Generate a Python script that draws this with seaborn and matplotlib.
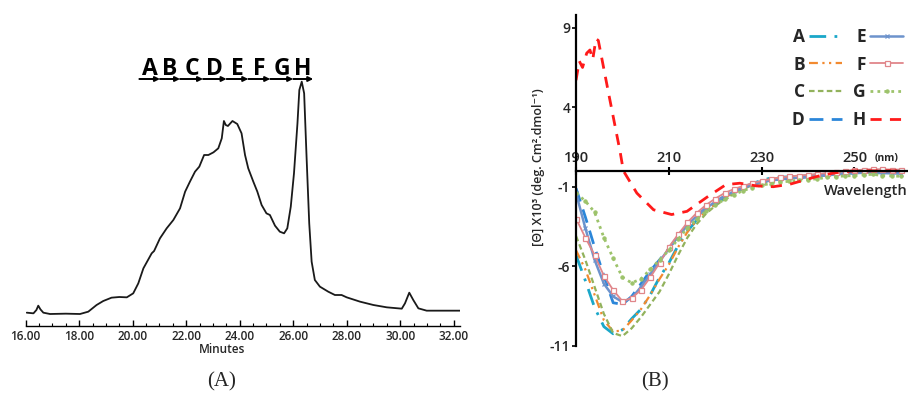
import matplotlib
matplotlib.use("Agg")
import matplotlib.pyplot as plt
import seaborn as sns

# ---- panel A: chromatogram ----
minutes = [16.04, 16.29, 16.40, 16.47, 16.55, 16.66, 16.91, 17.5, 18.03, 18.34,
           18.65, 18.9, 19.21, 19.5, 19.78, 20.02, 20.21, 20.40, 20.71, 20.80,
           21.02, 21.27, 21.52, 21.77, 21.96, 22.14, 22.33, 22.49, 22.67, 22.83,
           23.02, 23.2, 23.33, 23.41, 23.48, 23.56, 23.73, 23.91, 24.07, 24.2,
           24.32, 24.51, 24.66, 24.82, 25.0, 25.13, 25.32, 25.5, 25.66, 25.78,
           25.91, 26.03, 26.16, 26.23, 26.32, 26.41, 26.5, 26.6, 26.69, 26.81,
           27.0, 27.31, 27.56, 27.81, 28.0, 28.5, 29.0, 29.5, 30.06, 30.18,
           30.34, 30.49, 30.68, 30.99, 31.5, 32.25]
signal = [2, 0, 10, 23, 12, 2, -2, -1, -2, 5,
          25, 37, 47, 49, 48, 60, 90, 135, 180, 187,
          225, 255, 280, 315, 365, 395, 425, 440, 475, 475,
          483, 495, 525, 577, 565, 562, 577, 568, 540, 475,
          435, 395, 365, 325, 300, 295, 263, 245, 240, 255,
          320, 420, 570, 670, 695, 660, 470, 270, 155, 100,
          80, 65, 55, 55, 48, 35, 25, 18, 14, 30,
          62, 40, 15, 8, 8, 8]
fraction_labels = ["A", "B", "C", "D", "E", "F", "G", "H"]
fraction_bounds = [20.25, 21.02, 21.77, 22.63, 23.51, 24.32, 25.14, 26.0, 26.75]
minute_ticks = [16, 18, 20, 22, 24, 26, 28, 30, 32]

# ---- panel B: CD spectra ----
wavelength = [190, 192, 194, 196, 198, 200, 202, 204, 206, 208, 210, 212,
              214, 216, 218, 220, 222, 224, 226, 228, 230, 232, 234, 236,
              238, 240, 242, 244, 246, 248, 250, 252, 254, 256, 258, 260]
cd_A = [-5.3, -6.9, -8.6, -9.8, -10.25, -10.0, -9.3, -8.7, -7.8, -6.7, -5.8, -4.7,
        -3.8, -3.1, -2.55, -2.1, -1.7, -1.35, -1.05, -0.8, -0.6, -0.45, -0.4, -0.38,
        -0.35, -0.3, -0.25, -0.2, -0.15, -0.1, -0.05, 0.0, 0.0, -0.02, -0.05, -0.05]
cd_B = [-5.0, -6.2, -7.8, -9.4, -10.1, -10.05, -9.4, -8.7, -7.8, -6.8, -5.9, -4.8,
        -3.85, -3.1, -2.55, -2.1, -1.7, -1.35, -1.1, -0.85, -0.65, -0.5, -0.45, -0.4,
        -0.38, -0.33, -0.28, -0.22, -0.17, -0.12, -0.08, -0.05, -0.02, -0.05, -0.08, -0.1]
cd_C = [-4.1, -5.6, -7.3, -9.0, -10.2, -10.4, -9.9, -9.2, -8.4, -7.6, -6.5, -5.3,
        -4.2, -3.35, -2.7, -2.2, -1.8, -1.45, -1.15, -0.9, -0.72, -0.6, -0.52, -0.48,
        -0.43, -0.38, -0.33, -0.27, -0.22, -0.18, -0.15, -0.12, -0.1, -0.12, -0.15, -0.15]
cd_D = [-1.1, -2.9, -4.8, -6.6, -8.3, -8.4, -7.9, -7.1, -6.3, -5.6, -4.9, -4.1,
        -3.4, -2.85, -2.35, -1.95, -1.6, -1.3, -1.08, -0.88, -0.72, -0.6, -0.52, -0.47,
        -0.43, -0.38, -0.33, -0.27, -0.22, -0.17, -0.12, -0.08, -0.05, -0.05, -0.08, -0.1]
cd_E = [-1.4, -3.6, -5.6, -7.1, -7.9, -8.25, -8.0, -7.3, -6.5, -5.7, -4.9, -4.1,
        -3.4, -2.85, -2.35, -1.95, -1.6, -1.3, -1.08, -0.88, -0.72, -0.6, -0.52, -0.47,
        -0.43, -0.38, -0.33, -0.28, -0.22, -0.18, -0.15, -0.12, -0.12, -0.15, -0.15, -0.18]
cd_F = [-3.0, -4.2, -5.3, -6.6, -7.5, -8.2, -8.0, -7.5, -6.7, -5.8, -4.8, -4.0,
        -3.25, -2.65, -2.15, -1.75, -1.4, -1.15, -0.95, -0.78, -0.63, -0.52, -0.42, -0.35,
        -0.3, -0.25, -0.2, -0.15, -0.08, -0.02, 0.03, 0.08, 0.1, 0.1, 0.08, 0.08]
cd_G = [-1.4, -1.9, -2.6, -4.2, -5.5, -6.7, -7.05, -6.8, -6.2, -5.6, -5.0, -4.3,
        -3.6, -3.05, -2.55, -2.15, -1.8, -1.5, -1.25, -1.05, -0.9, -0.8, -0.72, -0.65,
        -0.6, -0.55, -0.5, -0.42, -0.36, -0.32, -0.3, -0.25, -0.22, -0.3, -0.32, -0.35]
wavelength_H = [190.0, 190.7, 191.4, 192.3, 193.0, 193.6, 194.3, 194.8, 195.2, 197.0,
                199.5, 200.2, 203.1, 206.7, 210.6, 213.9, 218.5, 222.3, 225.3, 228.9,
                232.5, 236.0, 239.0, 242.6, 246.0, 249.8, 255.0, 260.0]
cd_H = [5.7, 6.9, 6.5, 7.4, 7.6, 7.0, 8.3, 8.2, 7.6, 4.9,
        1.2, 0.0, -1.4, -2.45, -2.75, -2.55, -1.6, -0.87, -0.78, -0.95,
        -1.0, -0.85, -0.6, -0.3, -0.12, 0.0, 0.0, 0.0]
wl_ticks = [190, 210, 230, 250]
cd_ticks = [9, 4, -1, -6, -11]

sns.set_theme(style="white")
plt.rcParams["font.family"] = ["Open Sans", "DejaVu Sans"]

fig = plt.figure(figsize=(9.08, 3.98), dpi=100)
axA = fig.add_axes([0.0283, 0.1809, 0.4787, 0.7186])
axB = fig.add_axes([0.6344, 0.1314, 0.3654, 0.8309])

# ---------- A ----------
sns.lineplot(x=minutes, y=signal, ax=axA, color="#1a1a1a", linewidth=1.3)
axA.set_xlim(16, 32.25)
axA.set_ylim(-38, 820)
for side in ["left", "right", "top"]:
    axA.spines[side].set_visible(False)
axA.spines["bottom"].set_color("black")
axA.spines["bottom"].set_linewidth(1.0)
axA.set_yticks([])
axA.set_xticks(minute_ticks)
axA.set_xticklabels([f"{t:.2f}" for t in minute_ticks], fontsize=8.5, fontweight="semibold")
axA.set_xticks([t + 0.5 * k for t in minute_ticks[:-1] for k in (1, 2, 3)], minor=True)
axA.tick_params(axis="x", which="major", direction="in", length=4, width=1, pad=3, color="black", bottom=True)
axA.tick_params(axis="x", which="minor", direction="in", length=2.5, width=0.8, color="black", bottom=True)
axA.set_xlabel("Minutes", fontsize=8.5, fontweight="semibold")
axA.xaxis.set_label_coords(0.4516, -0.058)
axA.xaxis.label.set_va("top")

for lab, x0, x1 in zip(fraction_labels, fraction_bounds[:-1], fraction_bounds[1:]):
    axA.annotate("", xy=(x1, 703), xytext=(x0, 703),
                 arrowprops=dict(arrowstyle="-|>", lw=1.4, color="black",
                                 mutation_scale=7, shrinkA=0, shrinkB=0))
    axA.text((x0 + x1) / 2, 716, lab, ha="center", va="baseline",
             fontsize=16.5, fontweight="bold", color="black")

# ---------- B ----------
series = [
    ("A", wavelength, cd_A, "#1aa7c9", (0, (6, 3, 1, 3)), None, 2.0),
    ("B", wavelength, cd_B, "#f28a30", (0, (4, 2, 1, 2, 1, 2)), None, 1.6),
    ("C", wavelength, cd_C, "#92b25c", (0, (2.5, 1.5)), None, 1.6),
    ("D", wavelength, cd_D, "#2b86d9", (0, (5, 3)), None, 2.0),
    ("E", wavelength, cd_E, "#6d93cc", "-", "x", 1.8),
    ("F", wavelength, cd_F, "#e0868a", "-", "s", 1.3),
    ("G", wavelength, cd_G, "#9dc36b", (0, (1, 1.5)), "o", 2.0),
    ("H", wavelength_H, cd_H, "#ff1a1a", (0, (4, 3)), None, 2.0),
]
handles = []
for name, xs, ys, col, ls, mk, lw in series:
    kw = dict(color=col, linewidth=lw, linestyle=ls)
    if mk == "s":
        kw.update(marker="s", markersize=3.6, markerfacecolor="white", markeredgecolor=col, markeredgewidth=0.9)
    elif mk == "x":
        kw.update(marker="x", markersize=3, markeredgecolor=col, markeredgewidth=0.9)
    elif mk == "o":
        kw.update(marker="o", markersize=2.4, markerfacecolor=col, markeredgecolor=col)
    sns.lineplot(x=xs, y=ys, ax=axB, **kw)
    handles.append(axB.lines[-1])

axB.set_xlim(190, 261.5)
axB.set_ylim(-11, 9.8)
axB.spines["right"].set_visible(False)
axB.spines["bottom"].set_visible(False)
axB.spines["top"].set_position(("data", 0))
for side in ["top", "left"]:
    axB.spines[side].set_color("black")
    axB.spines[side].set_linewidth(1.6)
axB.xaxis.set_ticks_position("top")
axB.set_xticks(wl_ticks)
axB.set_xticklabels([str(w) for w in wl_ticks], fontsize=10.5, fontweight="semibold")
axB.tick_params(axis="x", direction="inout", length=6, width=1.5, pad=1, color="black", top=True)
axB.set_yticks(cd_ticks)
axB.set_yticklabels([str(v) for v in cd_ticks], fontsize=10, fontweight="semibold")
axB.tick_params(axis="y", direction="out", length=3, width=1.2, pad=1, color="black", left=True)
axB.set_ylabel("[\u0398] X10\u00b3 (deg. Cm\u00b2.dmol\u207b\u00b9)", fontsize=9, fontweight="semibold")
axB.yaxis.set_label_coords(-0.093, 0.54)
axB.text(254.3, 0.45, "(nm)", fontsize=7.5, fontweight="bold", ha="left", va="bottom")
axB.text(261.5, -1.3, "Wavelength", fontsize=10.5, fontweight="semibold", ha="right", va="center")

axB.legend(handles, fraction_labels, ncol=2, markerfirst=False, frameon=False,
           loc="upper right", bbox_to_anchor=(903 / 908, 1 - 28 / 398),
           bbox_transform=fig.transFigure, borderaxespad=0, borderpad=0,
           handlelength=1.9, handletextpad=0.25, columnspacing=0.6, labelspacing=0.55,
           prop={"size": 12.5, "weight": "bold"})

fig.text(222 / 908, 1 - 382 / 398, "(A)", family="Liberation Serif", fontsize=15, ha="center", va="center")
fig.text(655 / 908, 1 - 382 / 398, "(B)", family="Liberation Serif", fontsize=15, ha="center", va="center")

fig.savefig("out.png", dpi=100)
